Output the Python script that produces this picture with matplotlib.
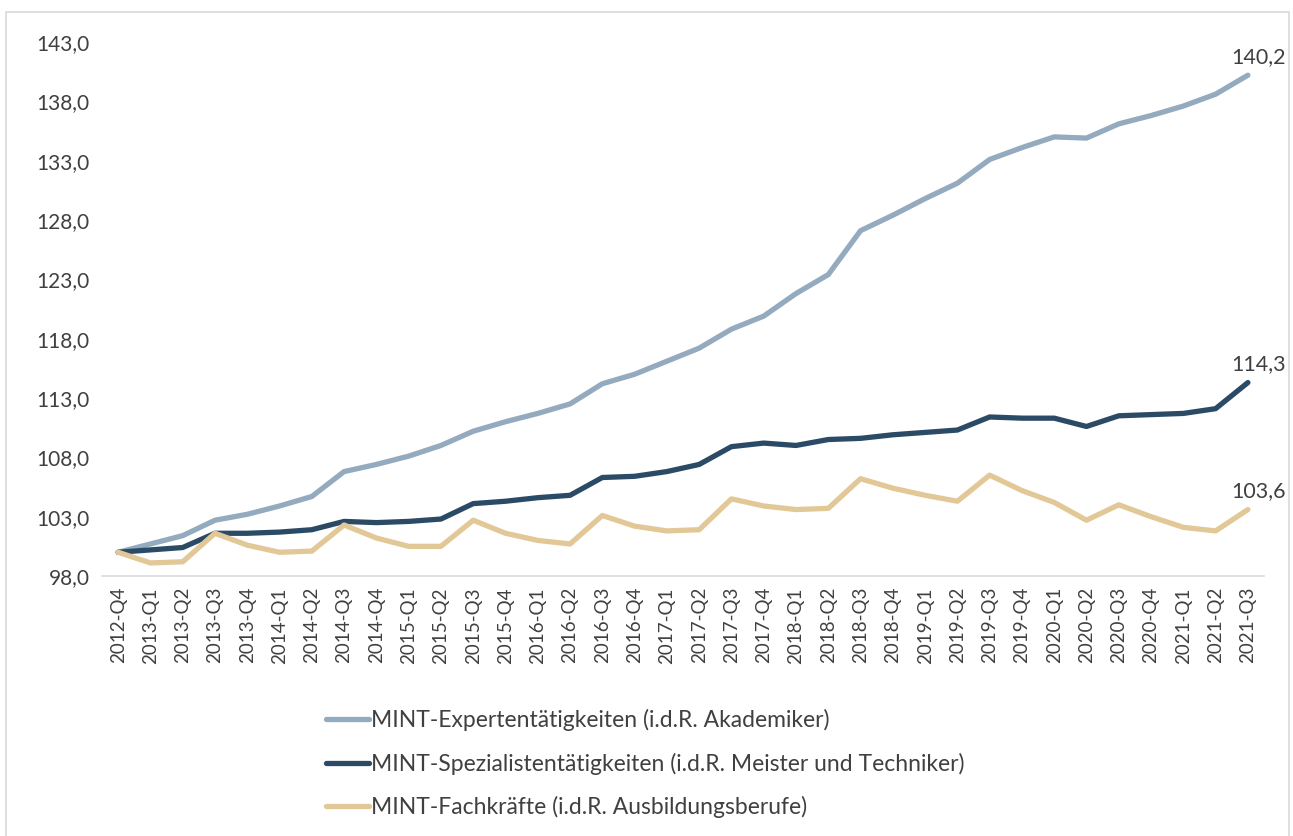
import matplotlib.pyplot as plt
import matplotlib
from matplotlib.patches import Rectangle

matplotlib.rcParams['font.family'] = ['Lato', 'DejaVu Sans']

quarters = ["2012-Q4",
            "2013-Q1", "2013-Q2", "2013-Q3", "2013-Q4",
            "2014-Q1", "2014-Q2", "2014-Q3", "2014-Q4",
            "2015-Q1", "2015-Q2", "2015-Q3", "2015-Q4",
            "2016-Q1", "2016-Q2", "2016-Q3", "2016-Q4",
            "2017-Q1", "2017-Q2", "2017-Q3", "2017-Q4",
            "2018-Q1", "2018-Q2", "2018-Q3", "2018-Q4",
            "2019-Q1", "2019-Q2", "2019-Q3", "2019-Q4",
            "2020-Q1", "2020-Q2", "2020-Q3", "2020-Q4",
            "2021-Q1", "2021-Q2", "2021-Q3"]

experten = [100.0, 100.7, 101.4, 102.7, 103.2, 103.9, 104.7, 106.8, 107.4,
            108.1, 109.0, 110.2, 111.0, 111.7, 112.5, 114.2, 115.0, 116.1,
            117.2, 118.8, 119.9, 121.8, 123.4, 127.1, 128.4, 129.8, 131.1,
            133.1, 134.1, 135.0, 134.9, 136.1, 136.8, 137.6, 138.6, 140.2]

spezialisten = [100.0, 100.2, 100.4, 101.6, 101.6, 101.7, 101.9, 102.6, 102.5,
                102.6, 102.8, 104.1, 104.3, 104.6, 104.8, 106.3, 106.4, 106.8,
                107.4, 108.9, 109.2, 109.0, 109.5, 109.6, 109.9, 110.1, 110.3,
                111.4, 111.3, 111.3, 110.6, 111.5, 111.6, 111.7, 112.1, 114.3]

fachkraefte = [100.0, 99.1, 99.2, 101.6, 100.6, 100.0, 100.1, 102.3, 101.2,
               100.5, 100.5, 102.7, 101.6, 101.0, 100.7, 103.1, 102.2, 101.8,
               101.9, 104.5, 103.9, 103.6, 103.7, 106.2, 105.4, 104.8, 104.3,
               106.5, 105.2, 104.2, 102.7, 104.0, 103.0, 102.1, 101.8, 103.6]

series = [
    ("MINT-Expertentätigkeiten (i.d.R. Akademiker)", experten, "#94AABE"),
    ("MINT-Spezialistentätigkeiten (i.d.R. Meister und Techniker)", spezialisten, "#2B4A66"),
    ("MINT-Fachkräfte (i.d.R. Ausbildungsberufe)", fachkraefte, "#E2C797"),
]

y_ticks = [98, 103, 108, 113, 118, 123, 128, 133, 138, 143]
TEXT = "#404040"

fig = plt.figure(figsize=(12.93, 8.36), dpi=100)
ax = fig.add_axes([0.0789, 0.311, 0.8987, 0.6388])

x = list(range(len(quarters)))
for label, vals, color in series:
    ax.plot(x, vals, color=color, linewidth=3.8, label=label,
            solid_capstyle="round", solid_joinstyle="round")
    ax.annotate(f"{vals[-1]:.1f}".replace(".", ","), (x[-1], vals[-1]),
                xytext=(8, 6), textcoords="offset points",
                ha="center", va="bottom", fontsize=15.5, color=TEXT)

ax.set_xlim(-0.5, len(quarters) - 0.5)
ax.set_ylim(98, 143)
ax.set_yticks(y_ticks)
ax.set_yticklabels([f"{v:.1f}".replace(".", ",") for v in y_ticks],
                   fontsize=15, color=TEXT)
ax.set_xticks(x)
ax.set_xticklabels(quarters, rotation=90, fontsize=13.5, color=TEXT)
ax.tick_params(axis="y", length=0, pad=9)
ax.tick_params(axis="x", length=0, pad=8)
for s in ["top", "right", "left"]:
    ax.spines[s].set_visible(False)
ax.spines["bottom"].set_color("#D9D9D9")
ax.spines["bottom"].set_linewidth(1.2)

leg = fig.legend(loc="upper left", bbox_to_anchor=(0.245, 0.163), frameon=False,
                 fontsize=16.5, handlelength=1.9, handletextpad=0.08,
                 labelspacing=0.94, borderaxespad=0)
for t in leg.get_texts():
    t.set_color(TEXT)

fig.patches.append(Rectangle((0.005, -0.01), 0.992, 0.996, transform=fig.transFigure,
                             fill=False, edgecolor="#D9D9D9", linewidth=1.2))

fig.savefig("out.png", facecolor="white")
